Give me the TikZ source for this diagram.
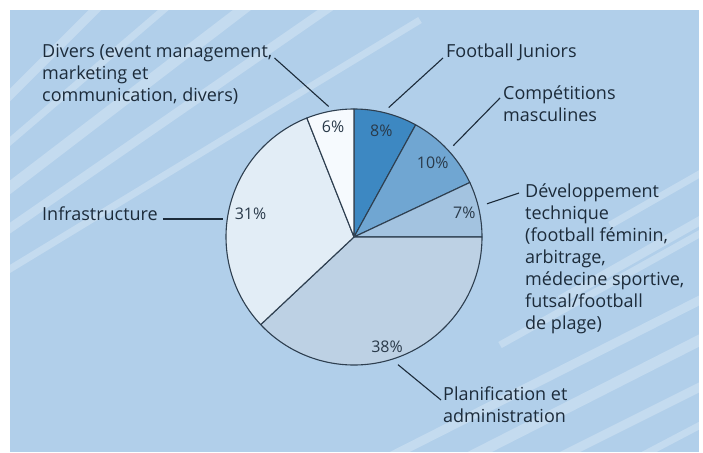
\documentclass[tikz,border=0pt]{standalone}
\usepackage{fontspec}
\setmainfont{Open Sans}
\usetikzlibrary{positioning}
\definecolor{bgblue}{HTML}{B1CFEA}
\definecolor{pieline}{HTML}{2E3F50}
\definecolor{lbltext}{HTML}{1C2B3A}
\definecolor{pcttext}{HTML}{2A3A4A}
\definecolor{sliceA}{HTML}{3D88C2}
\definecolor{sliceB}{HTML}{70A6D2}
\definecolor{sliceC}{HTML}{A3C3E0}
\definecolor{sliceD}{HTML}{BDD1E4}
\definecolor{sliceE}{HTML}{E2EDF6}
\definecolor{sliceF}{HTML}{F6FAFE}
\tikzset{
      slice/.style={
		draw=pieline,
		line width=1.1pt,
		line join=round,
	  },
  		pct/.style={
    	font=\fontsize{16}{19}\selectfont,
    	text=pcttext,
    	inner sep=0pt,
      },
  		lbl/.style={
    	font=\fontsize{18}{22}\selectfont,
    	text=lbltext,
    	align=left,
    	inner sep=0pt,
    	anchor=base west,
      },
  		leader/.style={
    	draw=lbltext,
    	line width=1.1pt,
      },
  		stripe/.style={
    	draw=white,
    	opacity=0.25,
    	line width=#1,
      },
  		stripe/.default=9pt,
  	}

\begin{document}
\begin{tikzpicture}[x=1pt, y=1pt]
    \useasboundingbox (-354,-215) rectangle (349,237);
    \fill[bgblue] (-344,-215) rectangle (345,227);
    % light stripes (pixel coordinates)
    \begin{scope}
      \clip (-344,-215) rectangle (345,227);
      \begin{scope}[shift={(-354,237)}, y=-1pt]
        \draw[stripe] (0,105) -- (105,0);
        \draw[stripe=7pt] (0,150) -- (175,0);
        \draw[stripe=11pt] (0,195) -- (255,0);
        \draw[stripe] (0,235) -- (340,0);
        \draw[stripe=7pt] (0,275) -- (420,20);
        \draw[stripe] (380,462) -- (710,295);
        \draw[stripe=11pt] (460,462) -- (710,335);
        \draw[stripe] (550,462) -- (710,382);
        \draw[stripe=7pt] (630,462) -- (710,420);
        \draw[stripe=7pt] (500,345) -- (710,228);
        \draw[stripe] (560,300) -- (710,215);
        \draw[stripe=7pt] (610,225) -- (710,168);
      \end{scope}
    \end{scope}
    % pie slices
    \foreach \from/\to/\col/\pct/\ang/\rad/\nm in {
        90/61.2/sliceA/8/75.6/110/juniors,
        61.2/25.2/sliceB/10/43.2/108/comp,
        25.2/0/sliceC/7/12.6/113/dev,
        0/-136.8/sliceD/38/-73.3/115/plan,
        -136.8/-248.4/sliceE/31/167.4/106/infra,
        -248.4/-270/sliceF/6/100.8/112/divers}{
      \filldraw[slice, fill=\col] (0,0) -- (\from:128) arc[start angle=\from, end angle=\to, radius=128] -- cycle;
      \node[pct] (p-\nm) at (\ang:\rad) {\pct\%};
    }
    % labels (anchored at the baseline of their last line)
    \node[lbl] (divers) at (-312,135) {Divers (event management,\\marketing et\\communication, divers)};
    \node[lbl] (infra) at (-312,17) {Infrastructure};
    \node[lbl] (juniors) at (92,179) {Football Juniors};
    \node[lbl] (comp) at (149,115) {Compétitions\\masculines};
    \node[lbl] (dev) at (171,-92) {Développement\\technique\\(football féminin,\\arbitrage,\\médecine sportive,\\futsal/football\\de plage)};
    \node[lbl] (plan) at (89,-185) {Planification et\\administration};
    % leader lines
    \coordinate (divers pie) at (101:133);
    \coordinate (infra pie) at (-131,18);
    \coordinate (juniors pie) at (75:134);
    \coordinate (comp pie) at (42.6:135);
    \coordinate (dev pie) at (14:137);
    \coordinate (plan pie) at (-71:135);
    \draw[leader] ([xshift=2pt, yshift=44pt]divers.base east) -- (divers pie);
    \draw[leader] ([xshift=5pt, yshift=1pt]infra.base east) -- (infra pie);
    \draw[leader] ([xshift=-3pt]juniors.base west) -- (juniors pie);
    \draw[leader] ([xshift=-3pt, yshift=24pt]comp.base west) -- (comp pie);
    \draw[leader] ([xshift=-6pt, yshift=136pt]dev.base west) -- (dev pie);
    \draw[leader] ([xshift=-2pt, yshift=22pt]plan.base west) -- (plan pie);
\end{tikzpicture}
\end{document}
